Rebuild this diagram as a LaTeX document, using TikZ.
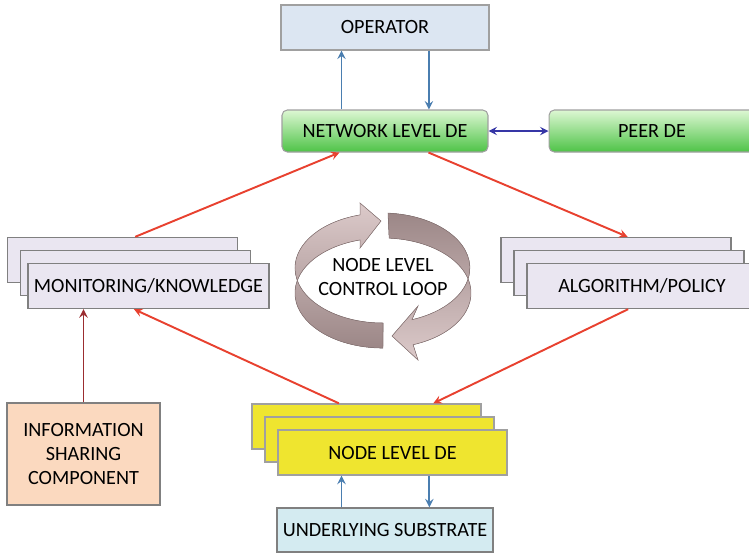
\documentclass[tikz,border=0pt]{standalone}
\usepackage{fontspec}
\setmainfont{Carlito}
\usepackage{xcolor}
\usepackage{tikz}
\usetikzlibrary{shapes.geometric, arrows, calc}
\definecolor{edgegray}{HTML}{A0A0A0}
\definecolor{opblue}{HTML}{DCE6F2}
\definecolor{nettop}{HTML}{DDF7D3}
\definecolor{netbot}{HTML}{4EC347}
\definecolor{lavender}{HTML}{EAE6F1}
\definecolor{nodeyellow}{HTML}{EFE52F}
\definecolor{subcyan}{HTML}{D4EBF1}
\definecolor{peach}{HTML}{FBD9BF}
\definecolor{flowred}{HTML}{E8412F}
\definecolor{infored}{HTML}{9B2D30}
\definecolor{linkblue}{HTML}{4A7EB0}
\definecolor{peerblue}{HTML}{3636A6}
\definecolor{looplight}{HTML}{DCCACA}
\definecolor{loopdark}{HTML}{9C8787}
\definecolor{loopedge}{HTML}{8A7676}
\tikzstyle{opbox} = [rectangle, 
minimum width=4.16cm, 
minimum height=0.9cm,
text centered, 
draw=edgegray, line width=0.7pt,
fill=opblue]
\tikzstyle{debox} = [rectangle, rounded corners=3pt, 
minimum width=4.12cm, 
minimum height=0.84cm,
text centered, 
draw=edgegray, line width=0.6pt,
top color=nettop, bottom color=netbot]
\tikzstyle{stackbox} = [rectangle, 
minimum width=4.6cm, 
minimum height=0.9cm,
text centered, 
draw=gray, line width=0.8pt,
fill=lavender]
\tikzstyle{nodebox} = [rectangle, 
minimum width=4.58cm, 
minimum height=0.9cm,
text centered, 
draw=edgegray, line width=0.8pt,
fill=nodeyellow]
\tikzstyle{subbox} = [rectangle, 
minimum width=4.12cm, 
minimum height=0.88cm,
text centered, 
draw=gray, line width=0.8pt,
fill=subcyan]
\tikzstyle{infobox} = [rectangle, 
minimum width=3.06cm, 
minimum height=2.04cm,
text centered, 
align=center,
draw=gray, line width=0.8pt,
fill=peach]
\tikzstyle{loopband} = [draw=loopedge, line width=0.3pt]
\tikzstyle{arrow} = [line width=1.1pt,->,>=stealth]

\begin{document}
\begin{tikzpicture}[x=0.02cm, y=-0.02cm, font=\fontsize{11.5pt}{13.5pt}\selectfont]
\useasboundingbox (0,0) rectangle (749,555);

\node (operator) [opbox] at (385,27.5) {OPERATOR};
\node (network) [debox] at (385,131) {NETWORK LEVEL DE};
\node (peer) [debox] at (652,131) {PEER DE};

\node (mon1) [stackbox] at (122.5,260) {};
\node (mon2) [stackbox] at ($(mon1)+(13,13)$) {};
\node (mon3) [stackbox] at ($(mon2)+(13,13)$) {MONITORING/KNOWLEDGE};

\node (alg1) [stackbox] at (616,260) {};
\node (alg2) [stackbox] at ($(alg1)+(13,13)$) {};
\node (alg3) [stackbox] at ($(alg2)+(13,13)$) {ALGORITHM/POLICY};

\node (nde1) [nodebox] at (366.5,426.5) {};
\node (nde2) [nodebox] at ($(nde1)+(13,13)$) {};
\node (nde3) [nodebox] at ($(nde2)+(13,13)$) {NODE LEVEL DE};

\node (substrate) [subbox] at (385,530) {UNDERLYING SUBSTRATE};
\node (info) [infobox] at (83.5,454) {INFORMATION\\SHARING\\COMPONENT};

% node level control loop
\fill[loopband, top color=looplight, bottom color=loopdark]
  (383,323) arc[start angle=90, end angle=255, x radius=88, y radius=55]
  -- (360,203) -- (381,221) -- (360,248) -- (360.2,239.9)
  arc[start angle=255, end angle=90, x radius=88, y radius=55] -- cycle;
\fill[loopband, top color=loopdark, bottom color=looplight]
  (388,213.1) arc[start angle=274, end angle=430, x radius=88, y radius=55]
  -- (418,306) -- (392,336) -- (418,360) -- (413.1,344.7)
  arc[start angle=430, end angle=274, x radius=88, y radius=55] -- cycle;
\node (loop) [align=center] at (383,277) {NODE LEVEL\\CONTROL LOOP};

\coordinate (netup) at ($(network.north west)!0.29!(network.north east)$);
\coordinate (opdown) at ($(operator.south west)!0.71!(operator.south east)$);
\coordinate (subup) at ($(substrate.north west)!0.3!(substrate.north east)$);
\coordinate (ndedown) at ($(nde3.south west)!0.66!(nde3.south east)$);

\draw [arrow, linkblue] (netup) -- (netup |- operator.south);
\draw [arrow, linkblue] (opdown) -- (opdown |- network.north);
\draw [line width=1.1pt, <->, >=stealth, peerblue] (network.east) -- (peer.west);
\draw [arrow, linkblue] (subup) -- (subup |- nde3.south);
\draw [arrow, linkblue] (ndedown) -- (ndedown |- substrate.north);

\draw [arrow, flowred] ($(mon1.north west)!0.555!(mon1.north east)$) -- ($(network.south west)!0.28!(network.south east)$);
\draw [arrow, flowred] ($(network.south west)!0.71!(network.south east)$) -- ($(alg1.north west)!0.55!(alg1.north east)$);
\draw [arrow, flowred] ($(alg3.south west)!0.44!(alg3.south east)$) -- ($(nde1.north west)!0.79!(nde1.north east)$);
\draw [arrow, flowred] ($(nde1.north west)!0.38!(nde1.north east)$) -- ($(mon3.south west)!0.44!(mon3.south east)$);
\draw [arrow, infored] (info.north) -- (info.north |- mon3.south);

\end{tikzpicture}
\end{document}
